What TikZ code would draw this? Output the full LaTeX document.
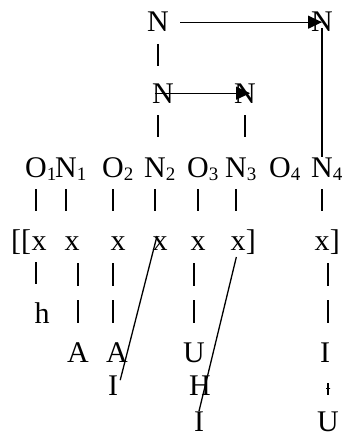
\documentclass[tikz,border=0pt]{standalone}
\usepackage{fontspec}
\setmainfont{Liberation Serif}
\usetikzlibrary{arrows.meta}

\newcommand{\idx}[1]{\rlap{\raisebox{-3pt}{\fontsize{19}{19}\selectfont #1}}}

\begin{document}
\begin{tikzpicture}[x=1pt, y=-1pt, seg/.style={anchor=base, inner sep=0pt, font=\fontsize{30}{36}\selectfont}, arr/.style={-{Triangle[length=14pt,width=13pt]}, line width=1.3pt}, tie/.style={line width=1.3pt, dash pattern=on 22pt off 51pt, dash phase=61pt}, tietwo/.style={line width=1.3pt, dash pattern=on 23pt off 14pt on 23pt off 52pt, dash phase=99pt}, tieshort/.style={line width=1.3pt, dash pattern=on 12pt off 59pt, dash phase=50pt}, bar/.style={draw, minimum width=4pt, minimum height=0pt, inner sep=0pt}]

\useasboundingbox (0,0) rectangle (345,436);

% nucleus projections
\node[seg] (Ntop) at (158,32) {N};
\node[seg] (Nright) at (322,32) {N};
\node[seg] (Nm) at (163,103) {N};
\node[seg] (Nr) at (245,103) {N};

% onsets and nuclei
\node[seg] (O1) at (36,177) {O\idx{1}};
\node[seg] (N1) at (66,177) {N\idx{1}};
\node[seg] (O2) at (113,177) {O\idx{2}};
\node[seg] (N2) at (155,177) {N\idx{2}};
\node[seg] (O3) at (198,177) {O\idx{3}};
\node[seg] (N3) at (236,177) {N\idx{3}};
\node[seg] (O4) at (280,177) {O\idx{4}};
\node[seg] (N4) at (322,177) {N\idx{4}};

% skeleton
\node[seg] (x1) at (39,250) {x};
\node[seg] (x2) at (72,250) {x};
\node[seg] (x3) at (118,250) {x};
\node[seg] (x4) at (160,250) {x};
\node[seg] (x5) at (198,250) {x};
\node[seg] (x6) at (238,250) {x};
\node[seg] (x8) at (322,250) {x};
\node[seg, anchor=base east] (lb) at (x1.base west) {[[};
\node[seg, anchor=base west] (rb1) at (x6.base east) {]};
\node[seg, anchor=base west] (rb2) at (x8.base east) {]};

% elements
\node[seg] (h) at (42,323) {h};
\node[seg] (A1) at (78,362) {A};
\node[seg] (A2) at (117,362) {A};
\node[seg] (U1) at (194,362) {U};
\node[seg] (I4) at (325,362) {I};
\node[seg] (I1) at (113,395) {I};
\node[seg] (H) at (200,395) {H};
\node[seg] (I2) at (199,431) {I};
\node[seg] (U4) at (328,431) {U};

\draw[arr, shorten <=11pt] (Ntop.east) -- (Nright.center);
\draw[arr] ([xshift=3pt]Nm.west) -- ([xshift=5pt]Nr.center);
\draw[line width=1.3pt, shorten <=6pt] (Nright.center) -- (Nright.center |- N4.north);

\path[tie]
 (Ntop.base) edge (Ntop.base |- Nm.base)
 (Ntop.base |- Nm.base) edge (Ntop.base |- N2.base)
 (Nr.base) edge (Nr.base |- N3.base)
 (O1.base) edge (O1.base |- x1.base)
 (N1.base) edge (N1.base |- x2.base)
 (O2.base) edge (O2.base |- x3.base)
 (N2.base) edge (N2.base |- x4.base)
 (O3.base) edge (O3.base |- x5.base)
 (N3.base) edge (N3.base |- x6.base)
 (N4.base) edge (N4.base |- x8.base)
 (O1.base |- x1.base) edge (O1.base |- h.base);

\path[tietwo]
 (A1.base |- x2.base) edge (A1.base)
 (I1.base |- x3.base) edge (I1.base |- A2.base)
 (U1.base |- x5.base) edge (U1.base)
 (U4.base |- x8.base) edge (U4.base |- I4.base);

\path[tieshort] (U4.base |- I4.base) edge (U4.base);
\path (U4.base |- I4.base) -- (U4.base) node[pos=0.38, bar] (cross) {};

% spreading
\draw[line width=1.3pt] ([xshift=-3pt]x4.north) -- ([shift={(2pt,-5pt)}]I1.north east);
\draw[line width=1.3pt, shorten <=7pt] (x6.south) -- (I2.north);
\end{tikzpicture}
\end{document}
